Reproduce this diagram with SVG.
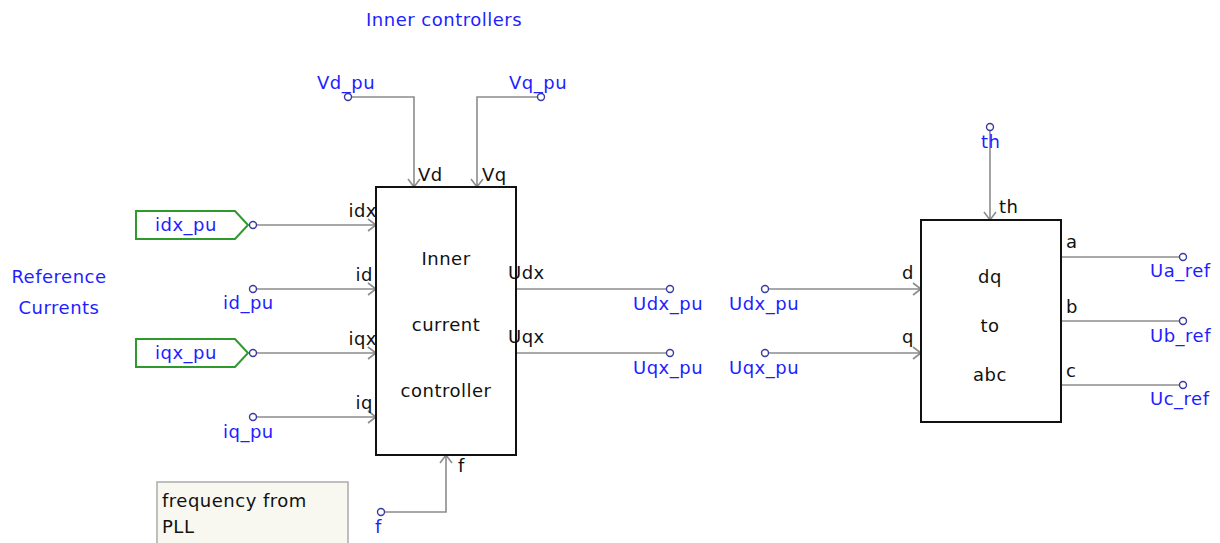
<svg xmlns="http://www.w3.org/2000/svg" width="1220" height="543" viewBox="0 0 1220 543">
<defs>
<style>
text{font-family:"DejaVu Sans",Verdana,sans-serif;font-size:18px;letter-spacing:0.5px}
.b{fill:#1e1eff}
.k{fill:#111}
.m{text-anchor:middle}
.e{text-anchor:end}
.w{stroke:#8c8c8c;stroke-width:1.6;fill:none}
.port{fill:#fff;stroke:#3a3aa0;stroke-width:1.4}
.blk{fill:#fff;stroke:#111;stroke-width:2}
.tag{fill:#fff;stroke:#2e9a2e;stroke-width:2}
</style>
</defs>
<rect width="1220" height="543" fill="#fff"/>
<text class="b" x="366" y="26">Inner controllers</text>
<text class="b m" x="59" y="283">Reference</text>
<text class="b m" x="59" y="314">Currents</text>

<g id="connectors">
<path class="w" d="M348 97H414V187M408 179L414 187L420 179"/>
<path class="w" d="M541 97H477V187M471 179L477 187L483 179"/>
<path class="w" d="M253 225H376M368 219L376 225L368 231"/>
<path class="w" d="M253 289H376M368 283L376 289L368 295"/>
<path class="w" d="M253 353H376M368 347L376 353L368 359"/>
<path class="w" d="M253 417H376M368 411L376 417L368 423"/>
<path class="w" d="M381 512H446V455M440 463L446 455L452 463"/>
<path class="w" d="M516 289H670"/>
<path class="w" d="M516 353H670"/>
<path class="w" d="M765 289H921M913 283L921 289L913 295"/>
<path class="w" d="M765 353H921M913 347L921 353L913 359"/>
<path class="w" d="M990 127V220M984 212L990 220L996 212"/>
<path class="w" d="M1061 257H1183"/>
<path class="w" d="M1061 321H1183"/>
<path class="w" d="M1061 385H1183"/>
</g>

<g id="tag-idx">
<path class="tag" d="M136 211H235L248 225L235 239H136Z"/>
<text class="b m" x="186" y="231">idx_pu</text>
<circle class="port" cx="253" cy="225" r="3.5"/>
</g>
<g id="tag-iqx">
<path class="tag" d="M136 339H235L248 353L235 367H136Z"/>
<text class="b m" x="186" y="359">iqx_pu</text>
<circle class="port" cx="253" cy="353" r="3.5"/>
</g>
<g id="port-id"><circle class="port" cx="253" cy="289" r="3.5"/><text class="b" x="223" y="309">id_pu</text></g>
<g id="port-iq"><circle class="port" cx="253" cy="417" r="3.5"/><text class="b" x="223" y="438">iq_pu</text></g>
<g id="port-vd"><text class="b" x="317" y="89">Vd_pu</text><circle class="port" cx="348" cy="97" r="3.5"/></g>
<g id="port-vq"><text class="b" x="509" y="89">Vq_pu</text><circle class="port" cx="541" cy="97" r="3.5"/></g>
<g id="port-f"><circle class="port" cx="381" cy="512" r="3.5"/><text class="b" x="375" y="533">f</text></g>

<g id="inner-controller">
<rect class="blk" x="376" y="187" width="140" height="268"/>
<text class="k m" x="446" y="265">Inner</text>
<text class="k m" x="446" y="331">current</text>
<text class="k m" x="446" y="397">controller</text>
<text class="k" x="418" y="181">Vd</text>
<text class="k" x="482" y="181">Vq</text>
<text class="k e" x="377" y="217">idx</text>
<text class="k e" x="373" y="281">id</text>
<text class="k e" x="377" y="345">iqx</text>
<text class="k e" x="373" y="409">iq</text>
<text class="k" x="508" y="279">Udx</text>
<text class="k" x="508" y="343">Uqx</text>
<text class="k" x="458" y="472">f</text>
</g>

<g id="port-udx-out"><circle class="port" cx="670" cy="289" r="3.5"/><text class="b" x="633" y="310">Udx_pu</text></g>
<g id="port-uqx-out"><circle class="port" cx="670" cy="353" r="3.5"/><text class="b" x="633" y="374">Uqx_pu</text></g>
<g id="port-udx-in"><circle class="port" cx="765" cy="289" r="3.5"/><text class="b" x="729" y="310">Udx_pu</text></g>
<g id="port-uqx-in"><circle class="port" cx="765" cy="353" r="3.5"/><text class="b" x="729" y="374">Uqx_pu</text></g>
<g id="port-th"><circle class="port" cx="990" cy="127" r="3.5"/><text class="b" x="981" y="148">th</text></g>

<g id="dq-to-abc">
<rect class="blk" x="921" y="220" width="140" height="202"/>
<text class="k m" x="990" y="283">dq</text>
<text class="k m" x="990" y="332">to</text>
<text class="k m" x="990" y="381">abc</text>
<text class="k" x="999" y="213">th</text>
<text class="k" x="902" y="279">d</text>
<text class="k" x="902" y="343">q</text>
<text class="k" x="1066" y="248">a</text>
<text class="k" x="1066" y="313">b</text>
<text class="k" x="1066" y="377">c</text>
</g>
<g id="port-ua"><circle class="port" cx="1183" cy="257" r="3.5"/><text class="b" x="1150" y="277">Ua_ref</text></g>
<g id="port-ub"><circle class="port" cx="1183" cy="321" r="3.5"/><text class="b" x="1150" y="342">Ub_ref</text></g>
<g id="port-uc"><circle class="port" cx="1183" cy="385" r="3.5"/><text class="b" x="1150" y="405">Uc_ref</text></g>

<g id="comment">
<rect x="157" y="482" width="191" height="70" fill="#f8f8f0" stroke="#aaa" stroke-width="1.5"/>
<text class="k" x="162" y="507">frequency from</text>
<text class="k" x="162" y="533">PLL</text>
</g>
</svg>
